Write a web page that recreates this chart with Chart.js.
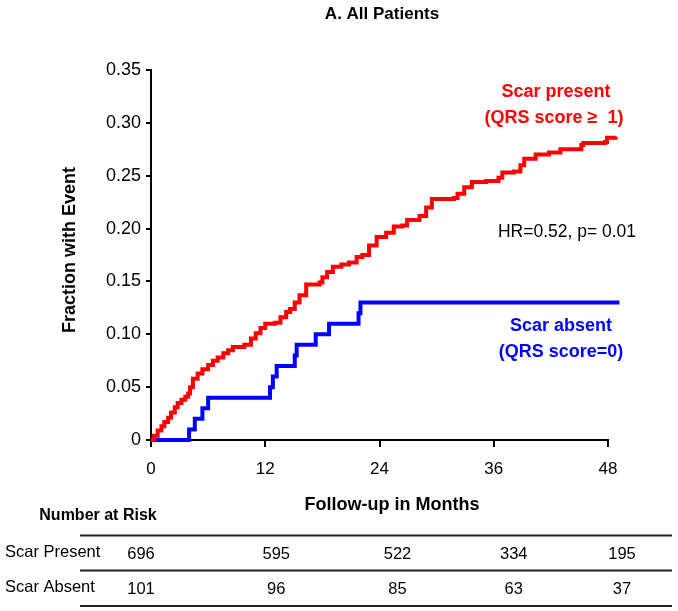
<!DOCTYPE html>
<html>
<head>
<meta charset="utf-8">
<script src="https://cdn.jsdelivr.net/npm/chart.js@4/dist/chart.umd.min.js"></script>
<style>
  html, body { margin:0; padding:0; background:#fff; }
  #chart { display:block; }
</style>
</head>
<body>
<canvas id="chart" width="678" height="611"></canvas>
<script>
// Kaplan-Meier style cumulative event curves
const presentMonths = [0, 0.3, 0.7, 1.1, 1.4, 1.8, 2.1, 2.5, 2.8, 3.2, 3.6, 3.9, 4.1, 4.4, 4.9, 5.4, 6.0, 6.5, 7.0, 7.6, 8.1, 8.6, 9.8, 10.5, 11.0, 11.5, 12.0, 13.0, 13.6, 14.2, 14.6, 15.1, 15.6, 16.3, 17.7, 18.0, 18.5, 19.1, 20.0, 20.8, 21.6, 22.2, 22.9, 23.7, 24.7, 25.5, 26.4, 26.9, 28.2, 28.9, 29.5, 31.8, 32.2, 32.9, 33.7, 35.2, 36.5, 36.9, 38.1, 38.8, 39.2, 40.4, 41.8, 43.0, 45.2, 45.4, 47.7, 47.9, 48.8, 49.1];
const presentFraction = [0, 0.004, 0.009, 0.013, 0.017, 0.021, 0.026, 0.031, 0.035, 0.038, 0.041, 0.044, 0.050, 0.058, 0.063, 0.067, 0.071, 0.075, 0.078, 0.082, 0.085, 0.088, 0.090, 0.096, 0.101, 0.106, 0.110, 0.111, 0.116, 0.121, 0.124, 0.130, 0.137, 0.147, 0.149, 0.154, 0.159, 0.164, 0.166, 0.168, 0.173, 0.175, 0.184, 0.192, 0.196, 0.202, 0.203, 0.208, 0.212, 0.220, 0.228, 0.229, 0.233, 0.239, 0.244, 0.245, 0.248, 0.253, 0.254, 0.260, 0.266, 0.270, 0.272, 0.275, 0.279, 0.281, 0.282, 0.286, 0.287, 0.291];

const absentMonths = [0, 4.0, 4.6, 5.4, 6.0, 12.5, 12.8, 13.2, 15.1, 15.3, 17.3, 18.7, 21.8, 22.0, 49.2];
const absentFraction = [0, 0.01, 0.02, 0.03, 0.04, 0.05, 0.06, 0.07, 0.08, 0.09, 0.10, 0.11, 0.12, 0.13, 0.13];

// number at risk table
const riskMonths = [0, 12, 24, 36, 48];
const riskPresent = [696, 595, 522, 334, 195];
const riskAbsent = [101, 96, 85, 63, 37];

const FONT = "'Liberation Sans', Arial, sans-serif";

function pts(xs, ys){ return xs.map((x,i)=>({x:x, y:ys[i]})); }

const textPlugin = {
  id: 'texts',
  afterDraw(chart){
    const ctx = chart.ctx;
    const xs = chart.scales.x;
    ctx.save();
    ctx.textBaseline = 'middle';
    ctx.textAlign = 'center';

    ctx.fillStyle = '#000';
    ctx.font = 'bold 17px ' + FONT;
    ctx.fillText('A. All Patients', 382, 14);

    ctx.font = 'bold 18px ' + FONT;
    ctx.fillText('Follow-up in Months', 392, 505);

    ctx.save();
    ctx.translate(70, 250);
    ctx.rotate(-Math.PI/2);
    ctx.fillText('Fraction with Event', 0, 0);
    ctx.restore();

    ctx.fillStyle = '#ff0000';
    ctx.fillText('Scar present', 556, 92);
    ctx.fillText('(QRS score \u2265  1)', 554, 118);

    ctx.fillStyle = '#0000ff';
    ctx.fillText('Scar absent', 561, 326);
    ctx.fillText('(QRS score=0)', 561, 352);

    ctx.fillStyle = '#000';
    ctx.font = '17.5px ' + FONT;
    ctx.fillText('HR=0.52, p= 0.01', 567, 232);

    // table
    ctx.font = 'bold 16px ' + FONT;
    ctx.fillText('Number at Risk', 98, 516);

    ctx.strokeStyle = '#222';
    ctx.lineWidth = 2;
    [535.5, 570.5, 606].forEach(y => {
      ctx.beginPath(); ctx.moveTo(80, y); ctx.lineTo(672, y); ctx.stroke();
    });

    ctx.font = '16.5px ' + FONT;
    ctx.textAlign = 'left';
    ctx.fillText('Scar Present', 5, 552);
    ctx.fillText('Scar Absent', 5, 587);
    ctx.textAlign = 'center';
    const shift = [-10, 11, 18, 20, 14];
    riskMonths.forEach((m, i) => {
      const px = xs.getPixelForValue(m) + shift[i];
      ctx.fillText(String(riskPresent[i]), px, 554);
      ctx.fillText(String(riskAbsent[i]), px, 589);
    });
    ctx.restore();
  }
};

new Chart(document.getElementById('chart'), {
  type: 'line',
  data: {
    datasets: [
      { label: 'Scar present', data: pts(presentMonths, presentFraction), borderColor: '#ff0000', borderWidth: 4, stepped: true, pointRadius: 0, fill: false, clip: false },
      { label: 'Scar absent', data: pts(absentMonths, absentFraction), borderColor: '#0000ff', borderWidth: 4, stepped: true, pointRadius: 0, fill: false, clip: false }
    ]
  },
  options: {
    responsive: false,
    animation: false,
    devicePixelRatio: 1,
    layout: { padding: { left: 0, right: 70, top: 70, bottom: 111 } },
    plugins: { legend: { display: false }, tooltip: { enabled: false }, title: { display: false } },
    scales: {
      x: {
        type: 'linear', min: 0, max: 48,
        afterFit: s => { s.height = 60; },
        ticks: { stepSize: 12, color: '#000', font: { family: FONT, size: 17 }, padding: 12, maxRotation: 0 },
        grid: { drawOnChartArea: false, drawTicks: true, tickLength: 7, color: '#000', lineWidth: 2 },
        border: { color: '#000', width: 2 }
      },
      y: {
        min: 0, max: 0.35,
        afterFit: s => { s.width = 151; },
        ticks: { stepSize: 0.05, color: '#000', font: { family: FONT, size: 18 }, padding: 5,
          callback: v => Math.abs(v) < 1e-9 ? '0' : v.toFixed(2) },
        grid: { drawOnChartArea: false, drawTicks: true, tickLength: 5, color: '#000', lineWidth: 2 },
        border: { color: '#000', width: 2 }
      }
    }
  },
  plugins: [textPlugin]
});
</script>
</body>
</html>
